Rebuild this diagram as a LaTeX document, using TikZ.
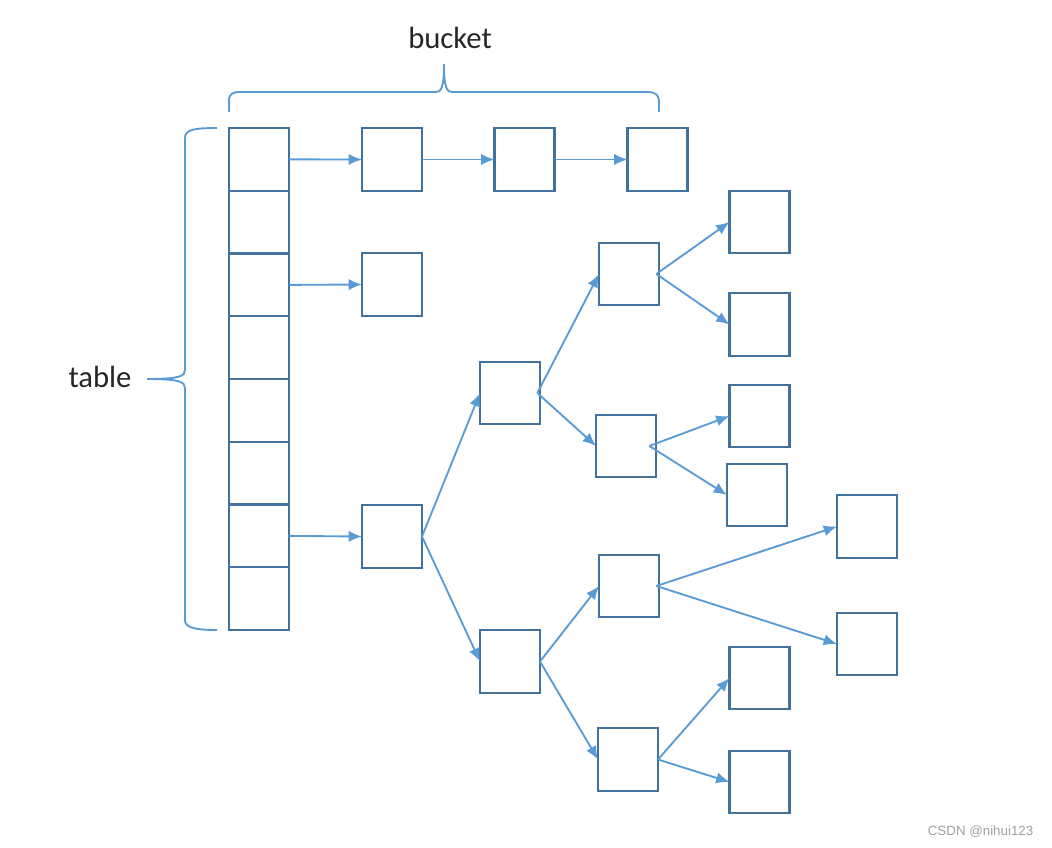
\documentclass[tikz,border=0pt]{standalone}
\usepackage{fontspec}
\setmainfont{Carlito}
\newfontfamily\wmfont{Liberation Sans}
\usetikzlibrary{arrows.meta}
\definecolor{boxc}{HTML}{41719C}
\definecolor{linec}{HTML}{5B9BD5}
\definecolor{wmc}{HTML}{A0A0A0}
\tikzset{
  cell/.style={draw=boxc, line width=1.7pt, minimum width=45pt, minimum height=47pt, inner sep=0pt, outer sep=0pt},
  tcell/.style={draw=boxc, line width=1.7pt, minimum width=45pt, minimum height=47.06pt, inner sep=0pt, outer sep=0pt},
  conn/.style={draw=linec, line width=1.4pt, -{Latex[length=10pt,width=8.5pt]}},
  brace/.style={draw=linec, line width=1.4pt},
  lbl/.style={font=\fontsize{23}{26}\selectfont, text=black!85}
}
\begin{document}
\begin{tikzpicture}[x=0.75pt,y=-0.75pt]
\useasboundingbox (0,0) rectangle (1052,847);
% table
\foreach \i in {0,...,7} {
  \node[tcell] (t\i) at (259,{128+62.75*(\i+0.5)}) {};
}
% bucket list
\node[cell] (b1) at (392,159.5) {};
\node[cell] (b2) at (524.5,159.5) {};
\node[cell] (b3) at (657.5,159.5) {};
\node[cell] (c) at (392,284.5) {};
\node[cell] (d) at (392,536.5) {};
% tree
\node[cell] (e) at (510,393) {};
\node[cell] (f) at (510,661.5) {};
\node[cell] (g) at (629,274) {};
\node[cell] (h) at (626,446) {};
\node[cell] (i) at (629,586) {};
\node[cell] (j) at (628,759.5) {};
\node[cell] (k) at (759.5,222) {};
\node[cell] (l) at (759.5,324.5) {};
\node[cell] (m) at (759.5,416) {};
\node[cell] (n) at (757,495) {};
\node[cell] (o) at (867,526.5) {};
\node[cell] (p) at (867,644) {};
\node[cell] (q) at (759.5,678) {};
\node[cell] (r) at (759.5,782) {};
% arrows
\draw[conn] (t0.east) -- (b1.west);
\draw[conn] (b1.east) -- (b2.west);
\draw[conn] (b2.east) -- (b3.west);
\draw[conn] (t2.east) -- (c.west);
\draw[conn] (t6.east) -- (d.west);
\draw[conn] (d.east) -- (e.west);
\draw[conn] (d.east) -- (f.west);
\draw[conn] ([xshift=-2]e.east) -- (g.west);
\draw[conn] ([xshift=-2]e.east) -- (h.west);
\draw[conn] (f.east) -- (i.west);
\draw[conn] (f.east) -- (j.west);
\draw[conn] ([xshift=-2]g.east) -- (k.west);
\draw[conn] ([xshift=-2]g.east) -- (l.west);
\draw[conn] ([xshift=-5]h.east) -- (m.west);
\draw[conn] ([xshift=-5]h.east) -- (n.west);
\draw[conn] ([xshift=-2]i.east) -- (o.west);
\draw[conn] ([xshift=-2]i.east) -- (p.west);
\draw[conn] (j.east) -- (q.west);
\draw[conn] (j.east) -- (r.west);
% braces
\coordinate (btip) at (444,64);
\coordinate (ttip) at (147,379);
\draw[brace] (229,112) -- (229,101) .. controls (229,94) and (232,92) .. (240,92) -- (436,92) .. controls (441,92) and (444,88) .. (btip);
\draw[brace] (btip) .. controls (444,88) and (447,92) .. (452,92) -- (648,92) .. controls (655,92) and (659,95) .. (659,101) -- (659,112);
\draw[brace] (217,128) .. controls (193,128) and (185,130) .. (185,138) -- (185,370) .. controls (185,376) and (180,379) .. (ttip);
\draw[brace] (ttip) .. controls (180,379) and (185,382) .. (185,388) -- (185,620) .. controls (185,627) and (193,630) .. (217,630);
% labels
\node[lbl] (bl) at (450,38) {bucket};
\node[lbl] (tl) at (100,377) {table};
\node[font=\wmfont\fontsize{10}{12}\selectfont, text=wmc, anchor=east] (wm) at (1038,832) {CSDN @nihui123};
\end{tikzpicture}
\end{document}
